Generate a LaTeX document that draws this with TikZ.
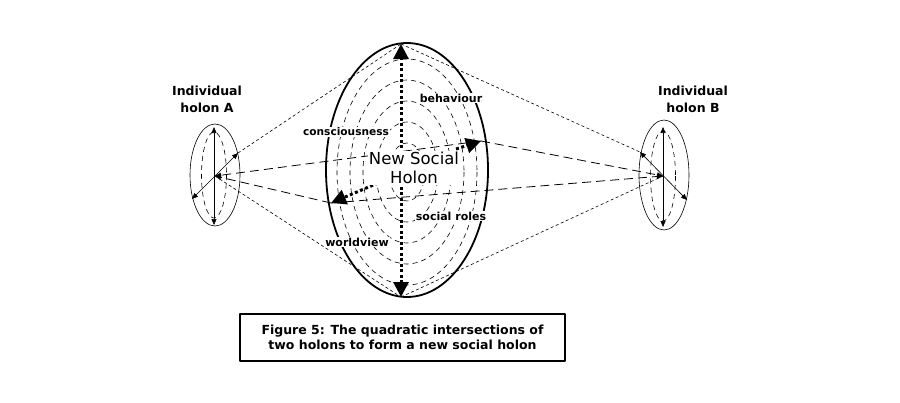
\documentclass[tikz,border=0pt]{standalone}
\usepackage{fontspec}
\setmainfont{DejaVu Sans}
\usetikzlibrary{arrows.meta}

\begin{document}
\begin{tikzpicture}[x=1pt, y=-1pt, line join=round, font=\bfseries\fontsize{11}{12}\selectfont]
			\tikzset{lab/.style={fill=white, inner sep=1pt},
				fine/.style={dash pattern=on 3pt off 2.5pt, line width=0.6pt},
				long/.style={dash pattern=on 9pt off 5pt, line width=0.8pt},
				ring/.style={dash pattern=on 5pt off 4pt, line width=0.6pt},
				dots/.style={line width=3pt, dash pattern=on 3pt off 2.5pt},
				tip/.style={-{Triangle[length=6pt, width=5pt]}},
				tips/.style={{Triangle[length=6pt, width=5pt]}-{Triangle[length=6pt, width=5pt]}},
				bigtip/.style={-{Triangle[length=15pt, width=15pt]}}}
			\useasboundingbox (0,0) rectangle (900,402);
			% points
			\coordinate (A) at (215,176); \coordinate (Atop) at (214,127); \coordinate (Abot) at (214,225);
			\coordinate (Aur) at (238,153); \coordinate (All) at (192,199);
			\coordinate (B) at (663,176); \coordinate (Btop) at (663,127); \coordinate (Bbot) at (663,227);
			\coordinate (Bul) at (640,152); \coordinate (Blr) at (687,200);
			\coordinate (Ntop) at (401,44); \coordinate (Nbot) at (401,297);
			\coordinate (Nr) at (481,141); \coordinate (Nri) at (456,149);
			\coordinate (Nl) at (331,203); \coordinate (Nli) at (378,183);
			% holon A and B
			\draw[line width=0.6pt] (215,175) ellipse [x radius=25, y radius=51];
			\draw[ring] (214,175) ellipse [x radius=12.5, y radius=43];
			\draw[line width=0.6pt] (664,175) ellipse [x radius=25, y radius=55];
			\draw[ring] (663,176) ellipse [x radius=12.5, y radius=45];
			\draw[tips, line width=0.6pt] (Atop) -- (Abot);
			\draw[tips, line width=0.6pt] (All) -- (Aur);
			\draw[tips, line width=0.6pt] (Btop) -- (Bbot);
			\draw[tips, line width=0.6pt] (Bul) -- (Blr);
			% new social holon
			\draw[line width=1.8pt] (407,170) ellipse [x radius=81, y radius=127];
			\foreach \rx/\ry in {70/113, 57/92, 44/71, 31/50, 18/29}
				\draw[ring] (407,172) ellipse [x radius=\rx, y radius=\ry];
			% connectors
			\draw[fine] (Aur) -- (Ntop);
			\draw[fine] (Ntop) -- (Bul);
			\draw[fine] (A) -- (Nbot);
			\draw[fine] (Nbot) -- (B);
			\draw[long, tip] (Nr) -- (A);
			\draw[long, tip] (Nl) -- (A);
			\draw[long, tip] (Nr) -- (B);
			\draw[long, tip] (Nl) -- (B);
			\draw[dots, bigtip] (401,170) -- (Ntop);
			\draw[dots, bigtip] (401,170) -- (Nbot);
			\draw[dots, bigtip] (Nri) -- (Nr);
			\draw[dots, bigtip] (Nli) -- (Nl);
			% labels
			\node[lab] (beh) at (451,98) {behaviour};
			\node[lab, font=\bfseries\fontsize{10.6}{12}\selectfont] (con) at (346,132) {consciousness};
			\node[lab] (soc) at (451,216) {social roles};
			\node[lab] (wor) at (357,242) {worldview};
			\node[lab, align=center, font=\fontsize{16.5}{19}\selectfont] (new) at (414,168) {New Social\\Holon};
			\node[align=center, font=\bfseries\fontsize{12.5}{17}\selectfont] (holA) at (207,99) {Individual\\holon A};
			\node[align=center, font=\bfseries\fontsize{12.5}{17}\selectfont] (holB) at (693,99) {Individual\\holon B};
			\node[draw, line width=1.2pt, align=center, minimum width=325, minimum height=47, inner sep=0pt,
				font=\bfseries\fontsize{12.5}{15}\selectfont] (cap) at (402.5,337.5)
				{Figure 5: The quadratic intersections of\\two holons to form a new social holon};
		\end{tikzpicture}
\end{document}
